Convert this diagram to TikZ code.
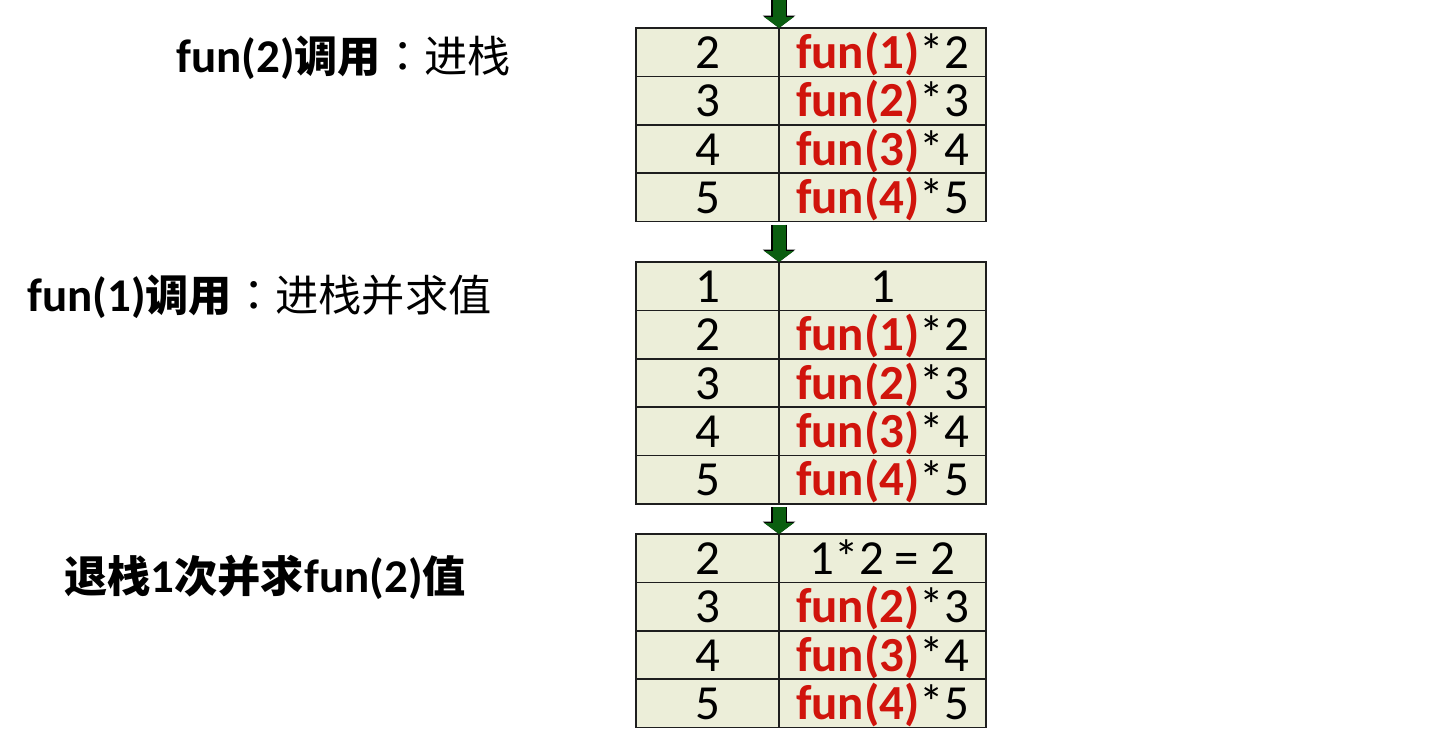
\documentclass[tikz,border=0pt]{standalone}
\usepackage{fontspec}
\usepackage{xcolor}
\usepackage{tikz}
\usetikzlibrary{
    arrows.meta,
    positioning
}
\setmainfont{Carlito}
\newfontfamily\cjk[Scale=0.92]{Noto Sans CJK SC}
\newfontfamily\cjkpunct[Scale=0.92]{Noto Sans CJK TC}
\definecolor{cellfill}{HTML}{ECEED9}
\definecolor{cellborder}{HTML}{1E1E1E}
\definecolor{funred}{HTML}{D0140C}
\definecolor{pushgreen}{HTML}{0B5E10}
\tikzset{
    numcell/.style={
        rectangle, draw=cellborder, fill=cellfill, line width=1.5pt,
        minimum width=143pt, minimum height=48.4pt,
        inner sep=0pt, outer sep=0pt,
        text height=40pt, text depth=8pt,
        font=\fontsize{49}{55}\selectfont
    },
    valcell/.style={
        numcell, minimum width=207pt
    },
    stack label/.style={
        anchor=west, inner sep=0pt,
        font=\fontsize{47}{53}\selectfont
    },
    push/.style={
        line width=13pt, draw=pushgreen,
        -{Triangle[width=29pt,length=11pt]},
        preaction={draw=black, line width=15.5pt,
            -{Triangle[width=32pt,length=12.5pt]}}
    },
}
\newcommand{\fcall}[1]{\textcolor{funred}{\bfseries fun(#1)}}

\begin{document}
\begin{tikzpicture}[x=1pt, y=-1pt]
    \useasboundingbox (0,0) rectangle (1450,747);

    % fun(2) pushed
    \node[numcell] (a1) at (707.5,52.2) {2};
    \node[valcell, right=0pt of a1] (av1) {\fcall{1}*2};
    \node[numcell, below=0pt of a1] (a2) {3};
    \node[valcell, right=0pt of a2] (av2) {\fcall{2}*3};
    \node[numcell, below=0pt of a2] (a3) {4};
    \node[valcell, right=0pt of a3] (av3) {\fcall{3}*4};
    \node[numcell, below=0pt of a3] (a4) {5};
    \node[valcell, right=0pt of a4] (av4) {\fcall{4}*5};

    % fun(1) pushed and evaluated
    \node[numcell] (b1) at (707.5,286.2) {1};
    \node[valcell, right=0pt of b1] (bv1) {1};
    \node[numcell, below=0pt of b1] (b2) {2};
    \node[valcell, right=0pt of b2] (bv2) {\fcall{1}*2};
    \node[numcell, below=0pt of b2] (b3) {3};
    \node[valcell, right=0pt of b3] (bv3) {\fcall{2}*3};
    \node[numcell, below=0pt of b3] (b4) {4};
    \node[valcell, right=0pt of b4] (bv4) {\fcall{3}*4};
    \node[numcell, below=0pt of b4] (b5) {5};
    \node[valcell, right=0pt of b5] (bv5) {\fcall{4}*5};

    % one pop, fun(2) evaluated
    \node[numcell] (c1) at (707.5,558.2) {2};
    \node[valcell, right=0pt of c1] (cv1) {1*2 = 2};
    \node[numcell, below=0pt of c1] (c2) {3};
    \node[valcell, right=0pt of c2] (cv2) {\fcall{2}*3};
    \node[numcell, below=0pt of c2] (c3) {4};
    \node[valcell, right=0pt of c3] (cv3) {\fcall{3}*4};
    \node[numcell, below=0pt of c3] (c4) {5};
    \node[valcell, right=0pt of c4] (cv4) {\fcall{4}*5};

    % Step labels
    \node[stack label] (la) at (176,58) {\bfseries fun(2){\cjk 调用}\mdseries{\cjkpunct ：}{\cjk 进栈}};
    \node[stack label] (lb) at (27,297) {\bfseries fun(1){\cjk 调用}\mdseries{\cjkpunct ：}{\cjk 进栈并求值}};
    \node[stack label] (lc) at (64,577) {\bfseries{\cjk 退栈}1{\cjk 次并求}fun(2){\cjk 值}};

    % Push arrows
    \coordinate (top) at (779,0);
    \draw[push] (top) -- (a1.north east);
    \draw[push] ([yshift=-3pt]a4.south east) -- (b1.north east);
    \draw[push] ([yshift=-3pt]b5.south east) -- (c1.north east);
\end{tikzpicture}
\end{document}
